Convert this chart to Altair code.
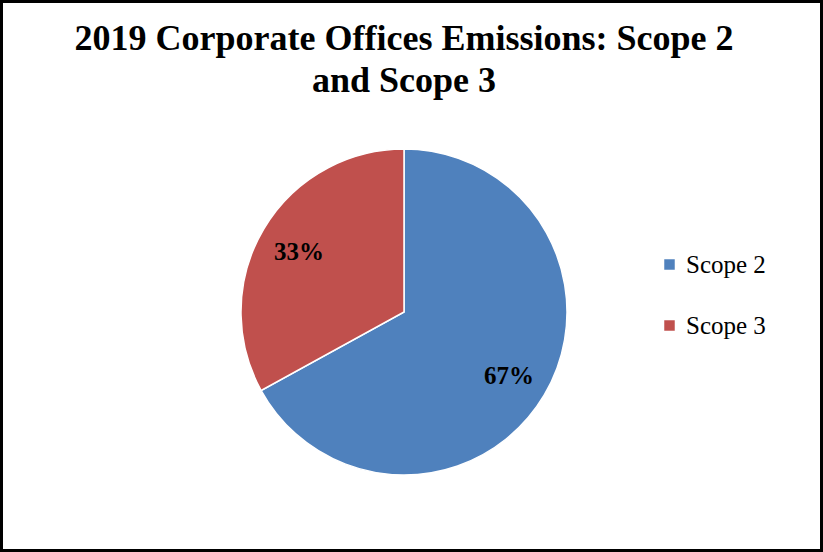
import altair as alt
import pandas as pd

categories = ["Scope 2", "Scope 3"]
shares = [67, 33]
colors = ["#4F81BD", "#C0504D"]
title_text = "2019 Corporate Offices Emissions: Scope 2\nand Scope 3"

df = pd.DataFrame({"scope": categories, "value": shares, "order": [0, 1]})
df["label"] = [f"{v}%" for v in shares]

base = alt.Chart(df).encode(
    theta=alt.Theta("value:Q", stack=True),
    order=alt.Order("order:Q"),
)

pie = base.mark_arc(outerRadius=163, stroke="white", strokeWidth=1.5).encode(
    x=alt.value(404),
    y=alt.value(312),
    color=alt.Color(
        "scope:N",
        scale=alt.Scale(domain=categories, range=colors),
        legend=alt.Legend(
            orient="none",
            legendX=657,
            legendY=252,
            title=None,
            symbolType="square",
            symbolSize=110,
            symbolStrokeWidth=0,
            labelFont="Liberation Serif",
            labelFontSize=25,
            labelColor="black",
            rowPadding=35,
            labelOffset=4,
        ),
    ),
)

labels = base.mark_text(
    radius=122,
    font="Liberation Serif",
    fontWeight="bold",
    fontSize=25,
    color="black",
).encode(
    x=alt.value(404),
    y=alt.value(314),
    text="label:N",
)

title = alt.Chart(pd.DataFrame({"t": [title_text]})).mark_text(
    font="Liberation Serif",
    fontWeight="bold",
    fontSize=36,
    color="black",
    align="center",
    baseline="top",
    lineBreak="\n",
    lineHeight=42,
).encode(x=alt.value(404), y=alt.value(22), text="t:N")

chart = (
    alt.layer(pie, labels, title)
    .properties(width=823, height=552, autosize=alt.AutoSizeParams(type="none"), padding=0, background="white")
    .configure_view(stroke="black", strokeWidth=6)
)

chart.save("out.html", embed_options={"renderer": "svg", "actions": False})
